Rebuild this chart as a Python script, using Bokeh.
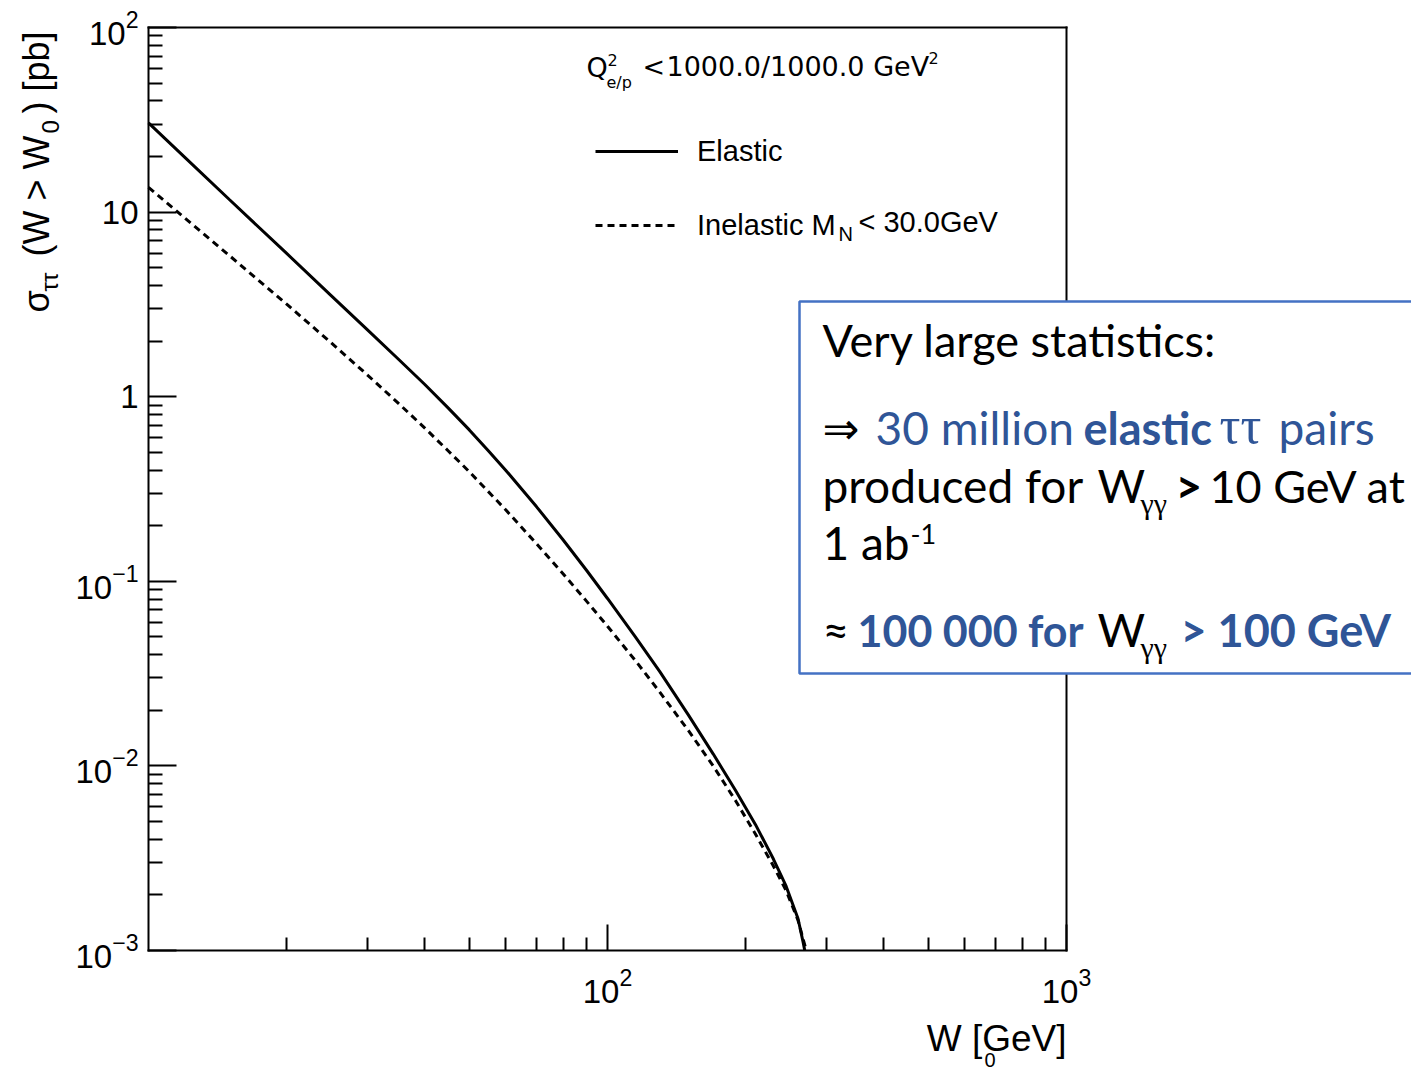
import math

from bokeh.plotting import figure
from bokeh.models import (FixedTicker, LogAxis, Label, BoxAnnotation, Legend,
                          LegendItem, Range1d)
from bokeh.embed import file_html
from bokeh.resources import INLINE

# Integrated tau-pair cross section sigma(W > W0) [pb] versus the threshold W0 [GeV]
w0_elastic = [10, 12, 15, 20, 25, 30, 35, 40, 45, 50, 55, 60, 70, 80, 90, 100,
              115, 130, 150, 170, 190, 210, 230, 245, 260, 267, 269]
sigma_elastic = [30.4, 19.8, 11.7, 5.97, 3.53, 2.30, 1.60, 1.164, 0.867, 0.661,
                 0.510, 0.400, 0.254, 0.1679, 0.1148, 0.0807, 0.0500, 0.0324,
                 0.0189, 0.01159, 0.00738, 0.00482, 0.00312, 0.00223, 0.00149,
                 0.00110, 0.00100]

w0_inelastic = [10, 15, 20, 25, 30, 35, 40, 45, 50, 60, 70, 80, 90, 100,
                115, 130, 150, 170, 190, 210, 230, 245, 260, 271]
sigma_inelastic = [13.6, 5.82, 3.17, 1.96, 1.31, 0.923, 0.676, 0.508, 0.392, 0.244,
                   0.160, 0.110, 0.0781, 0.0571, 0.0372, 0.0251, 0.01556, 0.00998,
                   0.00650, 0.00428, 0.00286, 0.00211, 0.00146, 0.00100]

x_bounds = (10, 1000)
y_bounds = (1e-3, 1e2)
x_major = [100, 1000]
x_minor = [k * 10 ** e for e in (1, 2) for k in range(2, 10)]
y_major = [1e-3, 1e-2, 1e-1, 1, 10, 100]
y_minor = [k * 10.0 ** e for e in range(-3, 2) for k in range(2, 10)]

ROOT_FONT = "Liberation Sans"
BOX_FONT = "Lato"
BLUE = "#2F5597"

# page size and where the axes box sits on it (pixels from top-left)
W, H = 1411, 1072
FL, FR, FT, FB = 148, 1066, 27, 950

# the plotting area spans the whole page; the ranges are widened so that the
# axes box lands on FL..FR / FT..FB
dec_x = (FR - FL) / math.log10(x_bounds[1] / x_bounds[0])
dec_y = (FB - FT) / math.log10(y_bounds[1] / y_bounds[0])
lx0 = math.log10(x_bounds[0])
ly1 = math.log10(y_bounds[1])
x_range = Range1d(10 ** (lx0 - FL / dec_x), 10 ** (lx0 + (W - FL) / dec_x))
y_range = Range1d(10 ** (ly1 - (H - FT) / dec_y), 10 ** (ly1 + FT / dec_y))

p = figure(width=W, height=H, x_axis_type="log", y_axis_type="log",
           x_range=x_range, y_range=y_range, title=None,
           output_backend="svg", toolbar_location=None, min_border=0)
p.grid.visible = False
p.outline_line_color = None
p.background_fill_color = "white"
p.border_fill_color = "white"

xa = p.xaxis[0]
xa.ticker = FixedTicker(ticks=x_major, minor_ticks=x_minor)
xa.fixed_location = y_bounds[0]
xa.bounds = x_bounds
ya = p.yaxis[0]
ya.ticker = FixedTicker(ticks=y_major, minor_ticks=y_minor)
ya.fixed_location = x_bounds[0]
ya.bounds = y_bounds
ya.major_label_overrides = {10: "10", 1: "1"}

for ax, mt, mn in ((xa, 26, 13), (ya, 28, 14)):
    ax.axis_line_width = 2
    ax.axis_line_color = "black"
    ax.axis_line_cap = "square"
    ax.major_tick_in = mt
    ax.major_tick_out = 0
    ax.minor_tick_in = mn
    ax.minor_tick_out = 0
    ax.major_tick_line_width = 2
    ax.minor_tick_line_width = 2
    ax.major_tick_line_color = "black"
    ax.minor_tick_line_color = "black"
    ax.major_label_text_font = ROOT_FONT
    ax.major_label_text_font_size = "33px"
    ax.major_label_text_color = "black"
xa.major_label_standoff = 17
ya.major_label_standoff = 10

# plain frame lines on the top and right
for side, loc, bnd in (("right", x_bounds[1], y_bounds), ("above", y_bounds[1], x_bounds)):
    frame_axis = LogAxis(ticker=FixedTicker(ticks=[]), fixed_location=loc, bounds=bnd,
                         axis_line_width=2, axis_line_color="black",
                         axis_line_cap="square", major_tick_line_color=None,
                         minor_tick_line_color=None, major_label_text_font_size="0px")
    p.add_layout(frame_axis, side)

r_el = p.line(w0_elastic, sigma_elastic, line_color="black", line_width=3)
r_in = p.line(w0_inelastic, sigma_inelastic, line_color="black", line_width=3,
              line_dash="7 5")

legend = Legend(items=[LegendItem(label="Elastic", renderers=[r_el]),
                       LegendItem(label="Inelastic M", renderers=[r_in])],
                location=(595, H - 245), orientation="vertical",
                border_line_color=None, background_fill_alpha=0,
                label_text_font=ROOT_FONT, label_text_font_size="29px",
                label_text_color="black",
                glyph_width=83, glyph_height=40, label_height=40, spacing=34,
                padding=0, margin=0, label_standoff=19)
p.add_layout(legend)

BASE_SHIFT = 0.39   # anchor sits this fraction of the font size above the baseline


def put(text, cx, cy, size, font=ROOT_FONT, color="black", style="normal",
        align="left", vertical=False):
    """Place a text run whose baseline starts at page pixel (cx, cy)."""
    if vertical:
        ax_, ay_, angle = cx - BASE_SHIFT * size, cy, math.pi / 2
    else:
        ax_, ay_, angle = cx, cy - BASE_SHIFT * size, 0.0
    p.add_layout(Label(x=ax_, y=H - ay_, x_units="screen", y_units="screen",
                       text=text, text_font=font, text_font_size=f"{size}px",
                       text_color=color, text_font_style=style,
                       text_align=align, text_baseline="alphabetic",
                       angle=angle))


# legend remainder and header
put("N", 838, 241, 20)
put("< 30.0GeV", 858, 233, 29)
put("Q", 586, 78, 27, font="DejaVu Sans")
put("2", 607, 66, 16, font="DejaVu Sans")
put("e/p", 606, 88, 16, font="DejaVu Sans")
put("<", 642, 77, 27, font="DejaVu Sans")
put("1000.0/1000.0 GeV", 666, 77, 27, font="DejaVu Sans")
put("2", 928, 64, 16, font="DejaVu Sans")

# axis titles
put("W [GeV]", FR, 1052, 37, align="right")
put("0", 984, 1067, 20)
put("σ", 50, 312, 36, vertical=True)
put("ττ", 58, 291, 24, vertical=True)
put("(W > W", 50, 256, 36, vertical=True)
put("0", 59, 133, 24, vertical=True)
put(") [pb]", 50, 113, 36, vertical=True)

# summary box
p.add_layout(BoxAnnotation(left=799, right=W + 20, top=H - 301, bottom=H - 673,
                           left_units="screen", right_units="screen",
                           top_units="screen", bottom_units="screen",
                           fill_color="white", fill_alpha=1.0,
                           line_color="#4472C4", line_alpha=1.0, line_width=2.5))

put("Very large statistics:", 822, 357, 45, font=BOX_FONT)
put("⇒", 822, 445, 44, font="DejaVu Sans")
put("30 million", 875, 445, 46, font=BOX_FONT, color=BLUE)
put("elastic", 1083, 445, 45, font=BOX_FONT, color=BLUE, style="bold")
put("ττ", 1219, 445, 52, font="Liberation Serif", color=BLUE)
put("pairs", 1278, 445, 46, font=BOX_FONT, color=BLUE)
put("produced for", 822, 503, 46, font=BOX_FONT)
put("W", 1097, 503, 46, font=BOX_FONT)
put("γγ", 1140, 515, 30, font="Liberation Serif")
put(">", 1175, 503, 46, font=BOX_FONT, style="bold")
put("10 GeV at", 1209, 503, 45, font=BOX_FONT)
put("1 ab", 822, 560, 46, font=BOX_FONT)
put("-1", 910, 544, 27, font=BOX_FONT)
put("≈", 822, 647, 46, font=BOX_FONT)
put("100 000 for", 857, 647, 43, font=BOX_FONT, color=BLUE, style="bold")
put("W", 1097, 647, 46, font=BOX_FONT)
put("γγ", 1140, 659, 30, font="Liberation Serif")
put("> 100 GeV", 1180, 647, 45, font=BOX_FONT, color=BLUE, style="bold")

open("out.html", "w").write(file_html(p, INLINE))
